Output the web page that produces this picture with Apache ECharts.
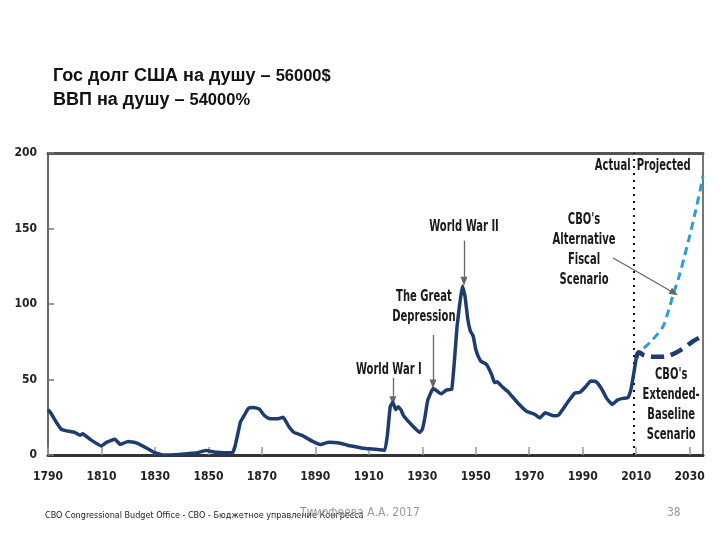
<!DOCTYPE html>
<html>
<head>
<meta charset="utf-8">
<script src="https://cdn.jsdelivr.net/npm/echarts@6/dist/echarts.min.js"></script>
<style>
html,body{margin:0;padding:0;background:#fff;}
#chart{width:720px;height:540px;}
</style>
</head>
<body>
<div id="chart"></div>
<script>
// ---- Data (debt held by public, % of GDP) ----
const startYear = 1790;
const xTickLabels = ["1790","1810","1830","1850","1870","1890","1910","1930","1950","1970","1990","2010","2030"];
const yTickValues = [0, 50, 100, 150, 200];

const actualYears = [1790,1791,1793,1795,1797,1800,1802,1803,1806,1810,1812,1815,1817,1820,1823,1827,1830,1833,1836,1839,1843,1846,1849,1853,1856,1859,1860,1862,1863,1865,1867,1869,1871,1873,1876,1878,1880,1882,1885,1889,1892,1895,1899,1902,1905,1908,1911,1914,1916,1917,1918,1919,1920,1921,1922,1923,1926,1929,1930,1931,1932,1934,1935,1937,1939,1941,1942,1943,1944,1945,1946,1947,1948,1949,1950,1951,1952,1954,1956,1957,1958,1960,1962,1963,1966,1969,1972,1974,1976,1979,1981,1984,1987,1989,1991,1993,1995,1997,1999,2001,2003,2005,2007,2008,2009,2010];
const actualValues = [30,28,22,17,16,15,13,14,10,6,8.5,10.5,7,9,8,4.5,1.5,0,0,0.3,1,1.5,3,1.8,1.5,1.5,6,22,25,31,31.5,30.5,26,24,24,25,19,15,13,9,7,8.5,8,6.5,5.5,4.5,4,3.5,3.2,14,32,35,30,32,30,26,20,15,17,25,36,44,43,40.5,43,43.5,62,85,100,112,105,90,82,79,70,65,62,60,53,48,48.5,45,42,40,34,29,27,24.5,28,26,26.5,34,41,41.5,45,49,48.5,44,37.5,33.5,36.4,37.5,38,43,53,64];

const altYears = [2010,2011,2013,2016,2020,2022,2024,2026,2028,2030,2032,2034,2035];
const altValues = [64,68,71,76,85,95,107,118,131,145,160,176,185];

const baseYears = [2010,2011,2013,2016,2020,2024,2028,2031,2035];
const baseValues = [64,68,66,65,65,67,71,75,79];

const dividerYear = 2009;

const annotationTexts = ["World War II","The Great\nDepression","World War I","CBO's\nAlternative\nFiscal\nScenario","CBO's\nExtended-\nBaseline\nScenario","Actual","Projected"];
const annotationYears = [1945.6,1930.6,1917.5,1990.5,2023.1,2007.9,2010.2];
const annotationValues = [151,98,56,136,33,191,191];
const annotationAlign = ["center","center","center","center","center","right","left"];

// arrows: [fromYear, fromValue, toYear, toValue]
const arrowFromYears = [1945.6,1934,1919,2001.4];
const arrowFromValues = [142,79.5,51,130.5];
const arrowToYears = [1945.6,1934,1919,2024.2];
const arrowToValues = [115,47,36,107.3];

// ---- Build ----
const toPts = (ys, vs) => ys.map((y, i) => [y - startYear, vs[i]]);
const condensed = "'Liberation Sans Narrow','DejaVu Sans Condensed',sans-serif";

const chart = echarts.init(document.getElementById('chart'));
const option = {
  animation: false,
  backgroundColor: '#ffffff',
  title: {
    left: 53, top: 64, padding: 0,
    text: '{a|Гос долг США на душу – }{b|56000$}\n{a|ВВП на душу – }{b|54000%}',
    textStyle: {
      rich: {
        a: {fontFamily: "'Liberation Sans',Arial,sans-serif", fontWeight: 'bold', fontSize: 18, color: '#111', lineHeight: 24},
        b: {fontFamily: "'Liberation Sans',Arial,sans-serif", fontWeight: 'bold', fontSize: 16.5, color: '#111', lineHeight: 24}
      }
    }
  },
  grid: {left: 48, right: 17, top: 153, bottom: 85, show: true, borderColor: '#777', borderWidth: 2},
  xAxis: [{
    type: 'value', min: 0, max: 245, interval: 20,
    axisLine: {show: true, onZero: false, lineStyle: {color: '#333', width: 3}},
    axisTick: {show: true, inside: true, length: 8, lineStyle: {color: '#999', width: 1.5}},
    splitLine: {show: false},
    axisLabel: {
      margin: 16, color: '#222', fontFamily: condensed, fontWeight: 'bold', fontSize: 12,
      formatter: v => xTickLabels[Math.round(v / 20)] || ''
    }
  }, {
    type: 'value', min: 0, max: 245, position: 'top',
    axisLine: {show: true, onZero: false, lineStyle: {color: '#555', width: 3}},
    axisTick: {show: false}, axisLabel: {show: false}, splitLine: {show: false}
  }],
  yAxis: {
    type: 'value', min: yTickValues[0], max: yTickValues[yTickValues.length - 1], interval: 50,
    axisLine: {show: true, lineStyle: {color: '#666', width: 2}},
    axisTick: {show: true, inside: true, length: 6, lineStyle: {color: '#777', width: 1.5}},
    splitLine: {show: false},
    axisLabel: {margin: 11, color: '#222', fontFamily: condensed, fontWeight: 'bold', fontSize: 12}
  },
  series: [
    {
      type: 'line', name: 'Actual', data: toPts(actualYears, actualValues),
      symbol: 'none', smooth: 0.1, z: 5,
      lineStyle: {color: '#1f3c70', width: 3.5, join: 'round'},
      markLine: {
        silent: true, symbol: ['none', 'none'],
        label: {show: false},
        lineStyle: {color: '#111', width: 2, type: [2, 5]},
        data: [{xAxis: dividerYear - startYear}]
      }
    },
    {
      type: 'line', name: 'Alternative', data: toPts(altYears, altValues),
      symbol: 'none', smooth: 0.3, z: 4,
      lineStyle: {color: '#2a9fd4', width: 3, type: [8, 5]}
    },
    {
      type: 'line', name: 'Extended baseline', data: toPts(baseYears, baseValues),
      symbol: 'none', smooth: 0.4, z: 4,
      lineStyle: {color: '#1f3c70', width: 4.5, type: [13, 7]},
      markLine: {
        silent: true, symbol: ['none', 'triangle'], symbolSize: [7, 9],
        label: {show: false},
        lineStyle: {color: '#666', width: 1.3, type: 'solid'},
        data: arrowFromYears.map((y, i) => [
          {coord: [y - startYear, arrowFromValues[i]]},
          {coord: [arrowToYears[i] - startYear, arrowToValues[i]]}
        ])
      }
    }
  ],
  graphic: [
    {type: 'text', left: 45, top: 511, style: {text: 'CBO Congressional Budget Office - CBO - Бюджетное управление Конгресса', fontFamily: condensed, fontSize: 9, fill: '#222'}},
    {type: 'text', left: 300, top: 507, style: {text: 'Тимофеева А.А. 2017', fontFamily: condensed, fontSize: 12, fill: '#9a9a9a'}},
    {type: 'text', left: 667, top: 507, style: {text: '38', fontFamily: condensed, fontSize: 12, fill: '#9a9a9a'}}
  ]
};
chart.setOption(option);

// annotation texts placed through the chart's own coordinate conversion
const annoGraphics = annotationTexts.map((t, i) => {
  const p = chart.convertToPixel({gridIndex: 0}, [annotationYears[i] - startYear, annotationValues[i]]);
  return {
    type: 'text', id: 'anno' + i, x: p[0], y: p[1], scaleX: 0.74, z: 20,
    style: {
      text: t, fill: '#1a1a1a', fontFamily: condensed, fontWeight: 'bold', fontSize: 15,
      lineHeight: 20, align: annotationAlign[i], verticalAlign: 'middle'
    }
  };
});
chart.setOption({graphic: option.graphic.concat(annoGraphics)});
</script>
</body>
</html>
